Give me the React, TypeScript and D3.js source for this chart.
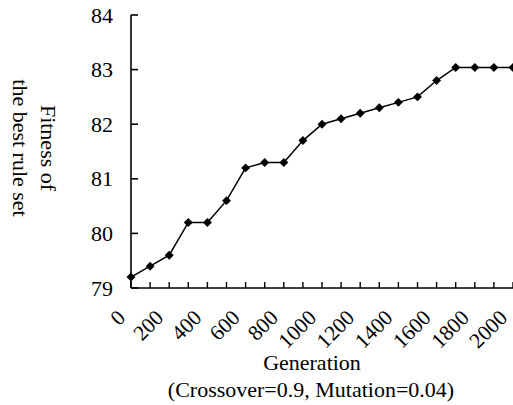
import React from "react";
import * as d3 from "d3";

const width = 513;
const height = 405;
const fontFamily = "'Times New Roman', 'Liberation Serif', serif";

// generations (x categories) and best fitness per generation
const generations = [0, 100, 200, 300, 400, 500, 600, 700, 800, 900, 1000,
  1100, 1200, 1300, 1400, 1500, 1600, 1700, 1800, 1900, 2000];
const fitness = [79.2, 79.4, 79.6, 80.2, 80.2, 80.6, 81.2, 81.3, 81.3, 81.7, 82.0,
  82.1, 82.2, 82.3, 82.4, 82.5, 82.8, 83.04, 83.04, 83.04, 83.04];
const xTickLabels = [0, 200, 400, 600, 800, 1000, 1200, 1400, 1600, 1800, 2000];
const yTicks = [79, 80, 81, 82, 83, 84];

const left = 131;
const right = 513;
const top = 15;
const bottom = 288;

const x = d3.scalePoint<number>().domain(generations).range([left, right]);
const y = d3.scaleLinear().domain([79, 84]).range([bottom, top]);

const line = d3.line<number>()
  .x((_, i) => x(generations[i])!)
  .y((d) => y(d));

const marker = d3.symbol().type(d3.symbolSquare).size(40);

const App = () => (
  <svg width={width} height={height}
    style={{ position: "absolute", left: 0, top: 0, background: "#fff" }}
    fontFamily={fontFamily}>
    {/* y axis */}
    <line x1={left} x2={left} y1={top} y2={bottom} stroke="#000" strokeWidth={1.6} />
    {yTicks.map((t) => (
      <g key={t}>
        <line x1={left} x2={left + 7} y1={y(t)} y2={y(t)} stroke="#000" strokeWidth={1.6} />
        <text x={113} y={y(t)} textAnchor="end" dominantBaseline="central" fontSize={22}>{t}</text>
      </g>
    ))}
    {/* x axis */}
    <line x1={left} x2={width} y1={bottom} y2={bottom} stroke="#000" strokeWidth={1.6} />
    {generations.map((g) => (
      <line key={g} x1={x(g)} x2={x(g)} y1={bottom} y2={bottom - 6} stroke="#000" strokeWidth={1.4} />
    ))}
    {xTickLabels.map((g) => (
      <text key={g} transform={`translate(${x(g)! - 4.5},319) rotate(-45)`}
        textAnchor="end" fontSize={21.5}>{g}</text>
    ))}
    {/* series */}
    <path d={line(fitness)!} fill="none" stroke="#000" strokeWidth={1.5} />
    {fitness.map((v, i) => (
      <path key={i} d={marker()!}
        transform={`translate(${x(generations[i])},${y(v)}) rotate(45)`} fill="#000" />
    ))}
    {/* titles */}
    <text x={312} y={370} textAnchor="middle" fontSize={22}>Generation</text>
    <text x={311} y={397} textAnchor="middle" fontSize={22}>(Crossover=0.9, Mutation=0.04)</text>
    <text transform="translate(41,148) rotate(90)" textAnchor="middle" fontSize={22}>Fitness of</text>
    <text transform="translate(13,148) rotate(90)" textAnchor="middle" fontSize={22}>the best rule set</text>
  </svg>
);

export default App;
